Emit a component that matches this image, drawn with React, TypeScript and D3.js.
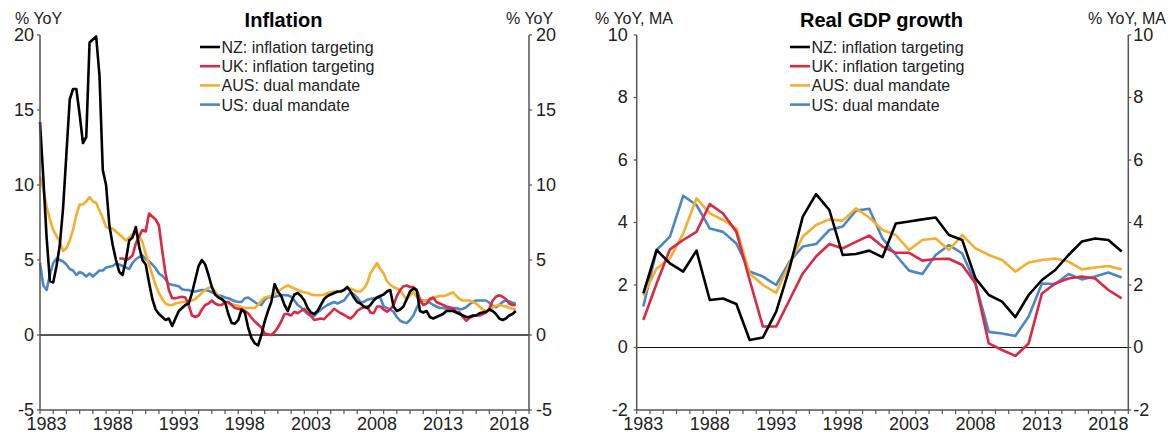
import React from "react";
import * as d3 from "d3";

// ---------- Inflation (quarterly, 1983Q1 .. 2019Q1) ----------
const inflStart = 1983;
const nzInfl = [14.2,10.5,6.5,3.6,3.5,4.6,6.0,8.5,12.1,15.7,16.4,16.4,14.7,12.8,13.2,19.5,19.7,19.9,17.3,11.0,10.0,7.3,6.0,5.0,4.2,4.0,5.0,6.3,6.5,7.2,5.9,5.0,4.7,3.5,2.4,1.7,1.4,1.2,1.0,1.1,0.6,1.1,1.6,1.8,2.0,2.1,2.8,3.7,4.6,5.0,4.7,4.0,3.2,2.7,2.5,2.4,2.2,1.4,0.8,0.75,1.0,1.7,1.5,0.5,-0.2,-0.55,-0.7,0.0,0.9,1.6,2.2,3.4,2.9,2.6,2.0,1.6,2.2,2.7,2.8,2.6,2.3,1.8,1.5,1.4,1.6,2.0,2.4,2.6,2.7,2.8,2.9,2.9,3.0,3.2,2.9,2.5,2.2,2.1,1.9,1.8,2.0,2.3,2.5,2.6,2.7,2.9,3.0,1.9,1.6,1.7,1.9,2.4,2.9,3.1,3.0,1.6,1.5,1.6,1.2,1.1,1.2,1.3,1.4,1.6,1.6,1.6,1.5,1.4,1.3,1.2,1.2,1.3,1.3,1.45,1.5,1.55,1.7,1.6,1.4,1.1,1.0,1.1,1.3,1.4,1.6];
const ukInfl = [null,null,null,null,null,null,null,null,null,null,null,null,null,null,null,null,null,null,null,null,null,null,null,null,5.1,5.1,5.0,5.1,5.3,6.1,6.6,7.0,6.9,8.1,7.9,7.7,7.3,5.6,4.1,3.0,2.45,2.45,2.5,2.55,2.5,2.0,1.3,1.2,1.3,1.7,2.0,2.1,2.3,2.1,2.0,2.0,2.2,2.2,2.0,1.8,1.75,1.7,1.6,1.45,1.15,0.9,0.7,0.5,0.1,0.05,0.0,0.2,0.5,0.9,1.4,1.4,1.3,1.55,1.45,1.6,1.75,1.5,1.25,1.0,1.05,1.1,1.05,1.3,1.5,1.75,1.6,1.45,1.35,1.2,1.1,1.3,1.6,1.75,1.85,1.9,1.5,1.45,1.9,1.9,1.7,1.55,1.7,2.0,2.6,3.0,3.25,3.3,3.2,3.2,3.0,2.4,2.0,2.1,2.4,2.5,2.2,2.1,2.0,1.9,1.85,1.75,1.55,1.5,1.2,0.95,1.15,1.25,1.3,1.3,1.4,1.5,1.75,2.3,2.55,2.65,2.55,2.4,2.1,2.0,2.0];
const ausInfl = [10.6,9.7,8.6,7.7,7.0,6.6,6.2,5.6,5.8,6.3,7.0,8.0,8.7,8.7,8.9,9.2,8.9,8.8,8.3,7.8,7.2,7.1,7.1,6.9,6.7,6.5,6.3,6.5,6.7,6.8,6.6,6.2,5.4,4.7,4.0,3.3,2.8,2.4,2.1,2.0,2.0,2.1,2.15,2.2,2.2,2.2,2.3,2.4,2.6,2.8,3.0,3.15,3.2,2.9,2.6,2.35,2.2,2.1,2.05,2.0,1.95,1.85,1.8,1.8,1.8,1.8,2.0,2.3,2.5,2.55,2.6,2.7,2.9,3.05,3.2,3.3,3.2,3.1,3.0,2.9,2.85,2.8,2.7,2.65,2.65,2.65,2.7,2.8,2.85,2.9,2.85,2.9,3.0,3.1,3.1,3.0,2.9,2.9,3.1,3.45,4.1,4.45,4.8,4.4,4.1,3.6,3.35,3.2,3.1,3.0,2.65,2.35,2.65,2.85,2.55,2.3,2.3,2.3,2.3,2.45,2.55,2.6,2.6,2.65,2.75,2.85,2.6,2.4,2.3,2.3,2.3,2.2,2.1,1.9,1.7,1.6,1.6,1.85,1.95,2.0,1.95,1.9,1.8,1.75,1.7];
const usInfl = [4.8,3.3,3.0,4.0,4.8,5.1,5.0,4.9,4.7,4.4,4.3,4.0,4.2,4.1,3.9,4.1,3.9,4.1,4.3,4.3,4.5,4.55,4.6,4.75,4.7,4.6,4.5,4.4,4.8,5.05,5.2,5.3,5.05,4.9,4.7,4.45,4.1,3.95,3.7,3.4,3.35,3.3,3.25,3.05,3.0,3.0,2.9,2.9,2.95,3.0,3.0,2.95,2.85,2.75,2.65,2.6,2.5,2.45,2.35,2.25,2.2,2.2,2.45,2.5,2.35,2.2,2.05,2.0,2.35,2.5,2.55,2.55,2.6,2.65,2.65,2.65,2.55,2.3,2.0,1.85,1.6,1.4,1.3,1.25,1.5,1.7,1.85,2.0,2.1,2.2,2.1,2.2,2.3,2.6,2.85,2.7,2.5,2.2,2.2,2.35,2.4,2.45,2.5,2.5,1.9,1.8,1.7,1.55,1.2,0.95,0.85,0.8,1.0,1.3,1.8,2.2,2.3,2.3,2.15,2.0,1.9,1.8,1.8,1.75,1.7,1.8,1.8,1.7,1.75,1.85,2.05,2.2,2.3,2.3,2.3,2.3,2.15,1.95,1.85,2.0,2.2,2.3,2.25,2.15,2.1];

// ---------- Real GDP growth (annual, 1983 .. 2019) ----------
const gdpYears = d3.range(1983, 2020);
const nzGdp = [1.73,3.12,2.69,2.43,3.1,1.52,1.57,1.39,0.24,0.32,1.15,2.53,4.19,4.91,4.4,2.96,2.99,3.1,2.89,3.97,4.03,4.1,4.16,3.6,3.44,2.21,1.68,1.47,0.97,1.68,2.16,2.48,2.96,3.39,3.49,3.44,3.07];
const ukGdp = [0.88,2.05,3.14,3.44,3.7,4.59,4.29,3.7,2.16,0.67,0.67,1.52,2.37,2.91,3.31,3.17,3.38,3.58,3.23,3.03,3.03,2.78,2.83,2.84,2.64,2.05,0.13,-0.08,-0.27,0.13,1.73,2.05,2.21,2.27,2.21,1.84,1.57];
const ausGdp = [1.66,2.53,2.85,3.65,4.77,4.29,4.08,3.81,2.37,2.0,1.75,2.69,3.55,3.92,4.1,4.06,4.45,4.16,3.76,3.6,3.12,3.44,3.49,3.12,3.6,3.17,2.96,2.8,2.43,2.72,2.8,2.85,2.75,2.5,2.56,2.61,2.5];
const usGdp = [1.31,3.12,3.55,4.85,4.56,3.81,3.7,3.33,2.43,2.27,2.0,2.75,3.23,3.31,3.76,3.87,4.38,4.44,3.49,2.96,2.46,2.35,2.96,3.28,3.01,2.05,0.5,0.45,0.37,0.99,2.05,2.03,2.35,2.18,2.27,2.4,2.24];

// ---------- Labels ----------
const seriesNames = ["NZ: inflation targeting", "UK: inflation targeting", "AUS: dual mandate", "US: dual mandate"];
const seriesColors = ["#000000", "#DA2845", "#F3AF2D", "#4B87C7"];
const yearTickLabels = [1983, 1988, 1993, 1998, 2003, 2008, 2013, 2018];
const inflTicks = [-5, 0, 5, 10, 15, 20];
const gdpTicks = [-2, 0, 2, 4, 6, 8, 10];

const FONT = "'Liberation Sans', Arial, sans-serif";
const AXIS = "#555";
const TXT = "#222";

type PanelProps = {
  x0: number; x1: number; yTop: number; yBot: number;
  yDomain: [number, number]; yTicks: number[];
  title: string; titleX: number; unit: string;
  unitLeftX: number; unitRightX: number;
  legendX: number;
  lines: { t: number[]; v: (number | null)[] }[];
  leftGap: number; rightGap: number;
  zeroStroke: string; zeroWidth: number;
};

function Panel(p: PanelProps) {
  const x = d3.scaleLinear().domain([1983, 2020]).range([p.x0, p.x1]);
  const y = d3.scaleLinear().domain(p.yDomain).range([p.yBot, p.yTop]);
  const years = d3.range(1983, 2021);
  const lineGen = d3.line<[number, number | null]>()
    .defined(d => d[1] !== null)
    .x(d => x(d[0]))
    .y(d => y(d[1] as number));
  return (
    <g fontFamily={FONT}>
      <line x1={p.x0} x2={p.x1} y1={y(0)} y2={y(0)} stroke={p.zeroStroke} strokeWidth={p.zeroWidth} />
      {p.lines.map((s, k) => (
        <path key={k} d={lineGen(s.t.map((t, i) => [t, s.v[i]] as [number, number | null])) || ""}
          fill="none" stroke={seriesColors[k]} strokeWidth={2.6} strokeLinejoin="round" />
      )).reverse()}
      <line x1={p.x0} x2={p.x0} y1={p.yTop} y2={p.yBot} stroke={AXIS} strokeWidth={1.5} />
      <line x1={p.x1} x2={p.x1} y1={p.yTop} y2={p.yBot} stroke={AXIS} strokeWidth={1.5} />
      <line x1={p.x0} x2={p.x1} y1={p.yBot} y2={p.yBot} stroke={AXIS} strokeWidth={1.5} />
      {p.yTicks.map(v => (
        <g key={v}>
          <line x1={p.x0 - 3} x2={p.x0} y1={y(v)} y2={y(v)} stroke={AXIS} strokeWidth={1.2} />
          <line x1={p.x1} x2={p.x1 + 3} y1={y(v)} y2={y(v)} stroke={AXIS} strokeWidth={1.2} />
          <text x={p.x0 - p.leftGap} y={y(v)} dy="0.33em" textAnchor="end" fontSize={18} fill={TXT}>{v}</text>
          <text x={p.x1 + p.rightGap} y={y(v)} dy="0.33em" textAnchor="start" fontSize={18} fill={TXT}>{v}</text>
        </g>
      ))}
      {years.map(yr => (
        <line key={yr} x1={x(yr)} x2={x(yr)} y1={p.yBot} y2={p.yBot + 4} stroke={AXIS} strokeWidth={1.2} />
      ))}
      {yearTickLabels.map(yr => (
        <text key={yr} x={x(yr + 0.5)} y={429.5} textAnchor="middle" fontSize={18} fill={TXT}>{yr}</text>
      ))}
      <text x={p.titleX} y={27} textAnchor="middle" fontSize={20} fontWeight="bold" fill="#000">{p.title}</text>
      <text x={p.unitLeftX} y={24} fontSize={16} fill={TXT}>{p.unit}</text>
      <text x={p.unitRightX} y={24} fontSize={16} fill={TXT}>{p.unit}</text>
      {seriesNames.map((n, k) => (
        <g key={n}>
          <line x1={p.legendX} x2={p.legendX + 20} y1={47 + k * 19.2} y2={47 + k * 19.2} stroke={seriesColors[k]} strokeWidth={2.6} />
          <text x={p.legendX + 21.5} y={53 + k * 19.2} fontSize={16} fill={TXT}>{n}</text>
        </g>
      ))}
    </g>
  );
}

export default function App() {
  const qt = nzInfl.map((_, i) => inflStart + i / 4);
  const gt = gdpYears.map(yr => yr + 0.5);
  return (
    <svg width={1173} height={434} style={{ position: "absolute", left: 0, top: 0, background: "#fff" }}>
      <rect width={1173} height={434} fill="#fff" />
      <Panel x0={40} x1={529} yTop={35} yBot={410} yDomain={[-5, 20]} yTicks={inflTicks}
        title="Inflation" titleX={283.5} unit="% YoY" unitLeftX={15} unitRightX={506}
        legendX={200}
        lines={[{ t: qt, v: nzInfl }, { t: qt, v: ukInfl }, { t: qt, v: ausInfl }, { t: qt, v: usInfl }]}
        leftGap={6} rightGap={7} zeroStroke="#555" zeroWidth={2} />
      <Panel x0={636.7} x1={1128.3} yTop={35} yBot={410} yDomain={[-2, 10]} yTicks={gdpTicks}
        title="Real GDP growth" titleX={881.5} unit="% YoY, MA" unitLeftX={595} unitRightX={1088}
        legendX={790}
        lines={[{ t: gt, v: nzGdp }, { t: gt, v: ukGdp }, { t: gt, v: ausGdp }, { t: gt, v: usGdp }]}
        leftGap={9} rightGap={5} zeroStroke="#111" zeroWidth={1.2} />
    </svg>
  );
}
